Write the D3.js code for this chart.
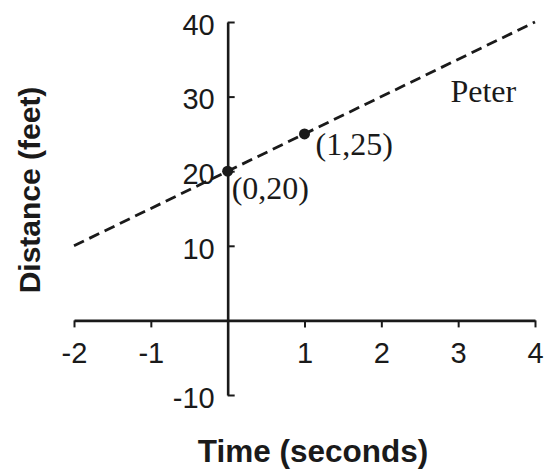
<!DOCTYPE html>
<html>
<head>
<meta charset="utf-8">
<script src="https://cdn.jsdelivr.net/npm/d3@7"></script>
<style>
  html, body { margin: 0; padding: 0; background: #fff; }
  svg { display: block; }
</style>
</head>
<body>
<svg id="chart" width="548" height="471"></svg>
<script>
// ---- data ----
const xTicks = [-2, -1, 1, 2, 3, 4];
const yTicks = [-10, 10, 20, 30, 40];
const lineX = [-2, 4];
const lineY = [10, 40];
const pointX = [0, 1];
const pointY = [20, 25];
const pointLabels = ["(0,20)", "(1,25)"];
const seriesName = "Peter";
const xTitle = "Time (seconds)";
const yTitle = "Distance (feet)";

const svg = d3.select("#chart");
const x = d3.scaleLinear().domain([-2, 4]).range([74, 535]);
const y = d3.scaleLinear().domain([-10, 40]).range([395, 22]);
const ink = "#1a1a1a";
const fmt = d => String(d);

// x axis at y=0
const gx = svg.append("g")
  .attr("transform", `translate(0,${y(0)})`)
  .call(d3.axisBottom(x).tickValues(xTicks).tickSizeInner(7).tickSizeOuter(0).tickPadding(15)
        .tickFormat(fmt));
gx.select(".domain").attr("stroke", ink).attr("stroke-width", 2.6);
gx.selectAll(".tick line").attr("stroke", ink).attr("stroke-width", 2);
gx.selectAll(".tick text").attr("font-family", "'Liberation Sans', Arial, sans-serif")
  .attr("font-size", 29).attr("fill", ink);

// y axis at x=0
const gy = svg.append("g")
  .attr("transform", `translate(${x(0)},0)`)
  .call(d3.axisLeft(y).tickValues(yTicks).tickSizeInner(-7).tickSizeOuter(0).tickPadding(13)
        .tickFormat(fmt));
gy.select(".domain").attr("stroke", ink).attr("stroke-width", 2.6);
gy.selectAll(".tick line").attr("stroke", ink).attr("stroke-width", 2);
gy.selectAll(".tick text").attr("font-family", "'Liberation Sans', Arial, sans-serif")
  .attr("font-size", 29).attr("fill", ink).attr("y", 3);

// dashed line
const lineData = lineX.map((v, i) => [v, lineY[i]]);
svg.append("path")
  .datum(lineData)
  .attr("d", d3.line().x(d => x(d[0])).y(d => y(d[1])))
  .attr("fill", "none").attr("stroke", ink).attr("stroke-width", 2.8)
  .attr("stroke-dasharray", "11,6");

// points
const pts = pointX.map((v, i) => ({x: v, y: pointY[i], label: pointLabels[i]}));
svg.selectAll("circle.pt").data(pts).enter().append("circle")
  .attr("class", "pt")
  .attr("cx", d => x(d.x)).attr("cy", d => y(d.y)).attr("r", 5.5).attr("fill", ink);
svg.selectAll("text.pl").data(pts).enter().append("text")
  .attr("class", "pl")
  .attr("x", (d, i) => x(d.x) + (i === 0 ? 4 : 11))
  .attr("y", (d, i) => y(d.y) + (i === 0 ? 28 : 21))
  .attr("font-family", "'Liberation Serif', 'Times New Roman', serif")
  .attr("font-size", 32).attr("fill", ink)
  .text(d => d.label);

// series label
svg.append("text")
  .attr("x", x(2.9)).attr("y", y(29.3))
  .attr("font-family", "'Liberation Serif', 'Times New Roman', serif")
  .attr("font-size", 32).attr("fill", ink)
  .text(seriesName);

// titles
svg.append("text")
  .attr("x", 313).attr("y", 462)
  .attr("text-anchor", "middle")
  .attr("font-family", "'Liberation Sans', Arial, sans-serif")
  .attr("font-weight", "bold").attr("font-size", 31.5).attr("fill", ink)
  .text(xTitle);
svg.append("text")
  .attr("transform", "translate(40,190) rotate(-90)")
  .attr("text-anchor", "middle")
  .attr("font-family", "'Liberation Sans', Arial, sans-serif")
  .attr("font-weight", "bold").attr("font-size", 30).attr("fill", ink)
  .text(yTitle);
</script>
</body>
</html>
